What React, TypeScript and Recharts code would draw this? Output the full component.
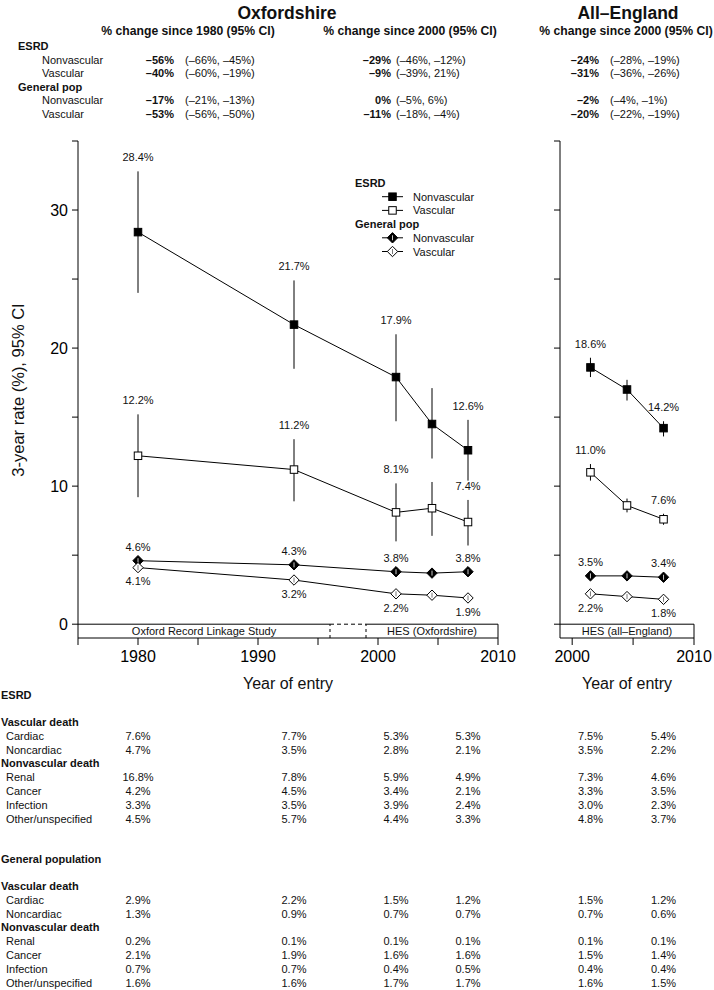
import {
  ComposedChart,
  Line,
  XAxis,
  YAxis,
  ErrorBar,
  LabelList,
  ReferenceLine,
  ReferenceArea,
} from 'recharts';

const FONT = '"Liberation Sans", Arial, Helvetica, sans-serif';
const INK = '#111';

// mid-year of each entry period
const oxYears = [1980, 1993, 2001.5, 2004.5, 2007.5];
const engYears = [2001.5, 2004.5, 2007.5];

// Oxfordshire, 3-year rate (%) and 95% CI
const oxEsrdNonvasc = [28.4, 21.7, 17.9, 14.5, 12.6];
const oxEsrdNonvascLo = [24.0, 18.5, 14.7, 12.0, 10.4];
const oxEsrdNonvascHi = [32.8, 24.9, 21.0, 17.1, 14.8];
const oxEsrdVasc = [12.2, 11.2, 8.1, 8.4, 7.4];
const oxEsrdVascLo = [9.2, 8.9, 6.0, 6.4, 5.7];
const oxEsrdVascHi = [15.2, 13.4, 10.2, 10.3, 9.0];
const oxGenNonvasc = [4.6, 4.3, 3.8, 3.7, 3.8];
const oxGenVasc = [4.1, 3.2, 2.2, 2.1, 1.9];
const oxLabelled = [0, 1, 2, 4];

// All-England
const engEsrdNonvasc = [18.6, 17.0, 14.2];
const engEsrdNonvascLo = [17.9, 16.2, 13.6];
const engEsrdNonvascHi = [19.3, 17.7, 14.7];
const engEsrdVasc = [11.0, 8.6, 7.6];
const engEsrdVascLo = [10.4, 8.1, 7.2];
const engEsrdVascHi = [11.6, 9.1, 8.0];
const engGenNonvasc = [3.5, 3.5, 3.4];
const engGenVasc = [2.2, 2.0, 1.8];
const engLabelled = [0, 2];

// data source strips under each panel
const oxSources = ['Oxford Record Linkage Study', 'HES (Oxfordshire)'];
const oxSourceSpans: [number, number][] = [[1975, 1996], [1999, 2010]];
const engSources = ['HES (all\u2013England)'];
const engSourceSpans: [number, number][] = [[1999, 2010]];

// % change table at the top
const changeGroups = ['ESRD', 'General pop'];
const changeRows = ['Nonvascular', 'Vascular'];
const changeHeaders = [
  '% change since 1980 (95% CI)',
  '% change since 2000 (95% CI)',
  '% change since 2000 (95% CI)',
];
const oxChange1980 = ['\u201356%', '\u201340%', '\u201317%', '\u201353%'];
const oxChange1980Ci = ['(\u201366%, \u201345%)', '(\u201360%, \u201319%)', '(\u201321%, \u201313%)', '(\u201356%, \u201350%)'];
const oxChange2000 = ['\u201329%', '\u20139%', '0%', '\u201311%'];
const oxChange2000Ci = ['(\u201346%, \u201312%)', '(\u201339%, 21%)', '(\u20135%, 6%)', '(\u201318%, \u20134%)'];
const engChange2000 = ['\u201324%', '\u201331%', '\u20132%', '\u201320%'];
const engChange2000Ci = ['(\u201328%, \u201319%)', '(\u201336%, \u201326%)', '(\u20134%, \u20131%)', '(\u201322%, \u201319%)'];

// cause-specific 3-year rates (%) below the plot
const causeGroups = ['Vascular death', 'Nonvascular death'];
const causeRows = [['Cardiac', 'Noncardiac'], ['Renal', 'Cancer', 'Infection', 'Other/unspecified']];
const causeYearsOx = [1980, 1993, 2001.5, 2007.5];
const causeYearsEng = [2001.5, 2007.5];
const esrdCauseOx = [
  [7.6, 7.7, 5.3, 5.3],
  [4.7, 3.5, 2.8, 2.1],
  [16.8, 7.8, 5.9, 4.9],
  [4.2, 4.5, 3.4, 2.1],
  [3.3, 3.5, 3.9, 2.4],
  [4.5, 5.7, 4.4, 3.3],
];
const esrdCauseEng = [[7.5, 5.4], [3.5, 2.2], [7.3, 4.6], [3.3, 3.5], [3.0, 2.3], [4.8, 3.7]];
const genCauseOx = [
  [2.9, 2.2, 1.5, 1.2],
  [1.3, 0.9, 0.7, 0.7],
  [0.2, 0.1, 0.1, 0.1],
  [2.1, 1.9, 1.6, 1.6],
  [0.7, 0.7, 0.4, 0.5],
  [1.6, 1.6, 1.7, 1.7],
];
const genCauseEng = [[1.5, 1.2], [0.7, 0.6], [0.1, 0.1], [1.5, 1.4], [0.4, 0.4], [1.6, 1.5]];

const yTicks = [0, 5, 10, 15, 20, 25, 30, 35];
const oxXTicks = [1975, 1980, 1985, 1990, 1995, 2000, 2005, 2010];
const engXTicks = [2000, 2005, 2010];

// layout
const CHART_H = 700;
const PLOT_TOP = 141;
const PLOT_BOTTOM = 638;
const X_AXIS_H = 40;
const OX = { chartLeft: 0, chartWidth: 520, plotLeft: 78, plotRight: 498, yAxisWidth: 70, domain: [1975, 2010] };
const ENG = { chartLeft: 500, chartWidth: 214, plotLeft: 560, plotRight: 694, yAxisWidth: 50, domain: [1999, 2010] };

type Layout = typeof OX;
type Shape = 'square' | 'diamond';

interface Series {
  key: string;
  values: number[];
  lo?: number[];
  hi?: number[];
  shape: Shape;
  filled: boolean;
  labelSide: 'top' | 'bottom';
}

const pct = (v: number) => `${v.toFixed(1)}%`;

// column position of a year in a panel (same mapping as the chart's x axis)
const colX = (l: Layout, year: number) =>
  l.plotLeft + ((year - l.domain[0]) / (l.domain[1] - l.domain[0])) * (l.plotRight - l.plotLeft);

function Marker({ cx, cy, shape, filled }: { cx: number; cy: number; shape: Shape; filled: boolean }) {
  const fill = filled ? '#000' : '#fff';
  if (shape === 'square') {
    return <rect x={cx - 3.75} y={cy - 3.75} width={7.5} height={7.5} fill={fill} stroke="#000" strokeWidth={1} />;
  }
  const r = 5.2;
  return (
    <g>
      <polygon
        points={`${cx},${cy - r} ${cx + r},${cy} ${cx},${cy + r} ${cx - r},${cy}`}
        fill={fill}
        stroke="#000"
        strokeWidth={1}
      />
      <line x1={cx} x2={cx} y1={cy - 2.5} y2={cy + 2.5} stroke={filled ? '#fff' : '#555'} strokeWidth={0.8} />
    </g>
  );
}

interface PanelProps {
  layout: Layout;
  years: number[];
  series: Series[];
  labelled: number[];
  xTicks: number[];
  sources: string[];
  spans: [number, number][];
  showYLabels: boolean;
}

function Panel({ layout, years, series, labelled, xTicks, sources, spans, showYLabels }: PanelProps) {
  const margin = {
    top: PLOT_TOP,
    bottom: CHART_H - PLOT_BOTTOM - X_AXIS_H,
    left: layout.plotLeft - layout.chartLeft - layout.yAxisWidth,
    right: layout.chartLeft + layout.chartWidth - layout.plotRight,
  };
  const last = spans.length - 1;

  return (
    <div style={{ position: 'absolute', left: layout.chartLeft, top: 0 }}>
      <ComposedChart width={layout.chartWidth} height={CHART_H} margin={margin}>
        <XAxis
          type="number"
          dataKey="year"
          domain={layout.domain}
          ticks={xTicks}
          interval={0}
          allowDataOverflow
          height={X_AXIS_H}
          stroke="#000"
          tickSize={7}
          tickMargin={6}
          tick={{ fontSize: 16, fill: '#000' }}
          tickFormatter={(v: number) => (v % 10 === 0 ? String(v) : '')}
        />
        <YAxis
          type="number"
          domain={[-1, 35]}
          ticks={yTicks}
          interval={0}
          allowDataOverflow
          width={layout.yAxisWidth}
          stroke="#000"
          tickSize={6}
          tickMargin={4}
          tick={{ fontSize: 16, fill: '#000' }}
          tickFormatter={(v: number) => (showYLabels && v % 10 === 0 ? String(v) : '')}
        />

        {spans.map(([a, b], i) => (
          <ReferenceArea
            key={`area-${i}`}
            x1={a}
            x2={b}
            y1={-1}
            y2={0}
            fill="none"
            fillOpacity={0}
            stroke="none"
            ifOverflow="visible"
            label={{ value: sources[i], position: 'center', fontSize: 11, fill: INK }}
          />
        ))}
        {spans.map(([a, b], i) => (
          <ReferenceLine key={`top-${i}`} segment={[{ x: a, y: 0 }, { x: b, y: 0 }]} stroke="#000" ifOverflow="visible" />
        ))}
        {spans.slice(1).map(([a], i) => (
          <ReferenceLine
            key={`gap-${i}`}
            segment={[{ x: spans[i][1], y: 0 }, { x: a, y: 0 }]}
            stroke="#000"
            strokeDasharray="4 3"
            ifOverflow="visible"
          />
        ))}
        {spans.map(([, b], i) => (
          <ReferenceLine
            key={`end-${i}`}
            segment={[{ x: b, y: -1 }, { x: b, y: 0 }]}
            stroke="#000"
            strokeDasharray={i < last ? '3 3' : undefined}
            ifOverflow="visible"
          />
        ))}
        {spans.slice(1).map(([a], i) => (
          <ReferenceLine
            key={`start-${i}`}
            segment={[{ x: a, y: -1 }, { x: a, y: 0 }]}
            stroke="#000"
            strokeDasharray="3 3"
            ifOverflow="visible"
          />
        ))}

        {series.map((s) => {
          const data = years.map((year, i) => ({
            year,
            v: s.values[i],
            err: s.lo && s.hi ? [s.values[i] - s.lo[i], s.hi[i] - s.values[i]] : [0, 0],
          }));
          return (
            <Line
              key={s.key}
              data={data}
              dataKey="v"
              type="linear"
              stroke="#000"
              strokeWidth={1}
              isAnimationActive={false}
              activeDot={false}
              legendType="none"
              dot={(p: any) => (
                <Marker key={`${s.key}-${p.index}`} cx={p.cx} cy={p.cy} shape={s.shape} filled={s.filled} />
              )}
            >
              {s.lo && s.hi && (
                <ErrorBar dataKey="err" direction="y" width={0} stroke="#000" strokeWidth={1} isAnimationActive={false} />
              )}
            </Line>
          );
        })}

        {series.map((s) => {
          const anchors = labelled.map((i) => ({
            year: years[i],
            y: s.labelSide === 'top' && s.hi ? s.hi[i] : s.values[i],
            text: pct(s.values[i]),
          }));
          return (
            <Line
              key={`${s.key}-labels`}
              data={anchors}
              dataKey="y"
              stroke="none"
              dot={false}
              activeDot={false}
              legendType="none"
              isAnimationActive={false}
            >
              <LabelList dataKey="text" position={s.labelSide} offset={10} fontSize={11} fill={INK} />
            </Line>
          );
        })}
      </ComposedChart>
    </div>
  );
}

const oxSeries: Series[] = [
  { key: 'ox-esrd-nv', values: oxEsrdNonvasc, lo: oxEsrdNonvascLo, hi: oxEsrdNonvascHi, shape: 'square', filled: true, labelSide: 'top' },
  { key: 'ox-esrd-v', values: oxEsrdVasc, lo: oxEsrdVascLo, hi: oxEsrdVascHi, shape: 'square', filled: false, labelSide: 'top' },
  { key: 'ox-gen-nv', values: oxGenNonvasc, shape: 'diamond', filled: true, labelSide: 'top' },
  { key: 'ox-gen-v', values: oxGenVasc, shape: 'diamond', filled: false, labelSide: 'bottom' },
];

const engSeries: Series[] = [
  { key: 'eng-esrd-nv', values: engEsrdNonvasc, lo: engEsrdNonvascLo, hi: engEsrdNonvascHi, shape: 'square', filled: true, labelSide: 'top' },
  { key: 'eng-esrd-v', values: engEsrdVasc, lo: engEsrdVascLo, hi: engEsrdVascHi, shape: 'square', filled: false, labelSide: 'top' },
  { key: 'eng-gen-nv', values: engGenNonvasc, shape: 'diamond', filled: true, labelSide: 'top' },
  { key: 'eng-gen-v', values: engGenVasc, shape: 'diamond', filled: false, labelSide: 'bottom' },
];

const legendItems: { group: string; rows: { label: string; shape: Shape; filled: boolean }[] }[] = [
  { group: 'ESRD', rows: [{ label: 'Nonvascular', shape: 'square', filled: true }, { label: 'Vascular', shape: 'square', filled: false }] },
  { group: 'General pop', rows: [{ label: 'Nonvascular', shape: 'diamond', filled: true }, { label: 'Vascular', shape: 'diamond', filled: false }] },
];

function ChangeTable() {
  const cols = [
    { center: 188, valueEnd: 174, ciStart: 185, values: oxChange1980, cis: oxChange1980Ci },
    { center: 410, valueEnd: 391, ciStart: 396, values: oxChange2000, cis: oxChange2000Ci },
    { center: 626, valueEnd: 599, ciStart: 610, values: engChange2000, cis: engChange2000Ci },
  ];
  const rowY = (g: number, r: number) => 50 + (g * 3 + r + 1) * 13.5;
  return (
    <g>
      <text x={287} y={19} textAnchor="middle" fontSize={17.5} fontWeight="bold">Oxfordshire</text>
      <text x={628} y={19} textAnchor="middle" fontSize={17.5} fontWeight="bold">All{'\u2013'}England</text>
      {cols.map((c, i) => (
        <text key={`h-${i}`} x={c.center} y={35} textAnchor="middle" fontSize={12.2} fontWeight="bold">
          {changeHeaders[i]}
        </text>
      ))}
      {changeGroups.map((g, gi) => (
        <g key={g}>
          <text x={18} y={50 + gi * 3 * 13.5} fontSize={11} fontWeight="bold">{g}</text>
          {changeRows.map((r, ri) => (
            <text key={r} x={42} y={rowY(gi, ri)} fontSize={11}>{r}</text>
          ))}
        </g>
      ))}
      {cols.map((c, ci) =>
        c.values.map((v, k) => {
          const gi = Math.floor(k / 2);
          const ri = k % 2;
          return (
            <g key={`c-${ci}-${k}`}>
              <text x={c.valueEnd} y={rowY(gi, ri)} textAnchor="end" fontSize={11} fontWeight="bold">{v}</text>
              <text x={c.ciStart} y={rowY(gi, ri)} fontSize={11}>{c.cis[k]}</text>
            </g>
          );
        }),
      )}
    </g>
  );
}

function LegendBlock() {
  const x0 = 355;
  let y = 187;
  const out: JSX.Element[] = [];
  legendItems.forEach((grp) => {
    out.push(<text key={grp.group} x={x0} y={y} fontSize={11} fontWeight="bold">{grp.group}</text>);
    y += 13.7;
    grp.rows.forEach((row) => {
      const cy = y - 4;
      out.push(
        <g key={`${grp.group}-${row.label}`}>
          <line x1={382} x2={403} y1={cy} y2={cy} stroke="#000" strokeWidth={1} />
          <Marker cx={392.5} cy={cy} shape={row.shape} filled={row.filled} />
          <text x={413} y={y} fontSize={11}>{row.label}</text>
        </g>,
      );
      y += 13.7;
    });
  });
  return <g>{out}</g>;
}

function CauseBlock({ title, top, ox, eng }: { title: string; top: number; ox: number[][]; eng: number[][] }) {
  const out: JSX.Element[] = [];
  out.push(<text key="t" x={1} y={top} fontSize={11} fontWeight="bold">{title}</text>);
  let y = top + 27;
  let k = 0;
  causeGroups.forEach((g, gi) => {
    out.push(<text key={`g-${gi}`} x={1} y={y} fontSize={11} fontWeight="bold">{g}</text>);
    y += 13.8;
    causeRows[gi].forEach((r) => {
      const row = k;
      out.push(
        <g key={`r-${row}`}>
          <text x={6} y={y} fontSize={11}>{r}</text>
          {causeYearsOx.map((yr, j) => (
            <text key={`o-${j}`} x={colX(OX, yr)} y={y} textAnchor="middle" fontSize={11}>{pct(ox[row][j])}</text>
          ))}
          {causeYearsEng.map((yr, j) => (
            <text key={`e-${j}`} x={colX(ENG, yr)} y={y} textAnchor="middle" fontSize={11}>{pct(eng[row][j])}</text>
          ))}
        </g>,
      );
      y += 13.8;
      k += 1;
    });
  });
  return <g>{out}</g>;
}

export default function App() {
  return (
    <div
      style={{
        position: 'absolute',
        left: 0,
        top: 0,
        width: 714,
        height: 990,
        background: '#fff',
        fontFamily: FONT,
        overflow: 'hidden',
      }}
    >
      <svg width={714} height={990} style={{ position: 'absolute', left: 0, top: 0 }} fontFamily={FONT} fill={INK}>
        <ChangeTable />
        <LegendBlock />
        <text transform="translate(24, 390) rotate(-90)" textAnchor="middle" fontSize={16.5}>
          3-year rate (%), 95% CI
        </text>
        <text x={(OX.plotLeft + OX.plotRight) / 2} y={689} textAnchor="middle" fontSize={16}>Year of entry</text>
        <text x={(ENG.plotLeft + ENG.plotRight) / 2} y={689} textAnchor="middle" fontSize={16}>Year of entry</text>
        <CauseBlock title="ESRD" top={699} ox={esrdCauseOx} eng={esrdCauseEng} />
        <CauseBlock title="General population" top={863} ox={genCauseOx} eng={genCauseEng} />
      </svg>
      <Panel
        layout={OX}
        years={oxYears}
        series={oxSeries}
        labelled={oxLabelled}
        xTicks={oxXTicks}
        sources={oxSources}
        spans={oxSourceSpans}
        showYLabels
      />
      <Panel
        layout={ENG}
        years={engYears}
        series={engSeries}
        labelled={engLabelled}
        xTicks={engXTicks}
        sources={engSources}
        spans={engSourceSpans}
        showYLabels={false}
      />
    </div>
  );
}
